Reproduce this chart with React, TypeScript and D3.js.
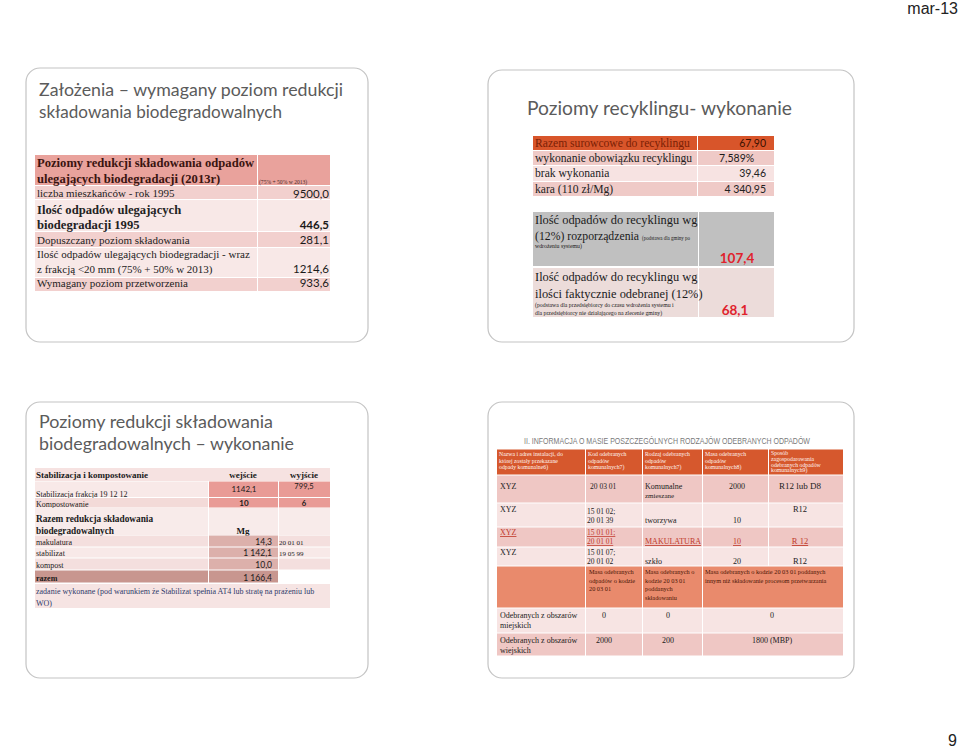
import React from "react";
import * as d3 from "d3";

const W = 960;
const H = 748;

const SERIF = "'Liberation Serif', 'DejaVu Serif', serif";
const SANS = "'Liberation Sans', Arial, sans-serif";
const NUM = "Lato, 'Open Sans', sans-serif";
const TITLE = "Lato, 'Liberation Sans', sans-serif";

// ---------- Page ----------
const pageDate = "mar-13";
const pageNumber = "9";

// ---------- Slide 1 ----------
const s1Title = ["Założenia – wymagany poziom redukcji", "składowania biodegradowalnych"];
const s1Labels = [
  ["Poziomy redukcji składowania odpadów", "ulegających biodegradacji (2013r)"],
  ["liczba mieszkańców - rok 1995"],
  ["Ilość odpadów ulegających", "biodegradacji 1995"],
  ["Dopuszczany poziom składowania"],
  ["Ilość odpadów ulegających biodegradacji - wraz", "z frakcją <20 mm (75% + 50% w 2013)"],
  ["Wymagany poziom przetworzenia"],
];
const s1Values = ["(75% + 50% w 2013)", "9500,0", "446,5", "281,1", "1214,6", "933,6"];
const s1Bold = [true, false, true, false, false, false];

// ---------- Slide 2 ----------
const s2Title = "Poziomy recyklingu- wykonanie";
const s2Labels = ["Razem surowcowe do recyklingu", "wykonanie obowiązku recyklingu", "brak wykonania", "kara (110 zł/Mg)"];
const s2Values = ["67,90", "7,589%", "39,46", "4 340,95"];
const s2bLabels = [
  ["Ilość odpadów do recyklingu wg", "(12%) rozporządzenia"],
  ["Ilość odpadów do recyklingu wg", "ilości faktycznie odebranej (12%)"],
];
const s2bNotes = [
  ["(podstawa dla gminy po", "wdrożeniu systemu)"],
  ["(podstawa dla przedsiębiorcy do czasu wdrożenia systemu i", "dla przedsiębiorcy nie działającego na zlecenie gminy)"],
];
const s2bValues = ["107,4", "68,1"];

// ---------- Slide 3 ----------
const s3Title = ["Poziomy redukcji składowania", "biodegradowalnych – wykonanie"];
const s3Head = ["Stabilizacja i kompostowanie", "wejście", "wyjście"];
const s3InLabels = ["Stabilizacja frakcja 19 12 12", "Kompostowanie"];
const s3InValues = ["1142,1", "10"];
const s3OutValues = ["799,5", "6"];
const s3Total = ["Razem redukcja składowania", "biodegradowalnych"];
const s3Unit = "Mg";
const s3Labels = ["makulatura", "stabilizat", "kompost", "razem"];
const s3Values = ["14,3", "1 142,1", "10,0", "1 166,4"];
const s3Codes = ["20 01 01", "19 05 99", "", ""];
const s3Note = ["zadanie wykonane (pod warunkiem że Stabilizat spełnia AT4 lub stratę na prażeniu lub", "WO)"];

// ---------- Slide 4 ----------
const s4Title = "II. INFORMACJA O MASIE POSZCZEGÓLNYCH RODZAJÓW ODEBRANYCH ODPADÓW";
const s4Header = [
  ["Nazwa i adres instalacji, do", "której zostały przekazane", "odpady komunalne6)"],
  ["Kod odebranych", "odpadów", "komunalnych7)"],
  ["Rodzaj odebranych", "odpadów", "komunalnych7)"],
  ["Masa odebranych", "odpadów", "komunalnych8)"],
  ["Sposób", "zagospodarowania", "odebranych odpadów", "komunalnych9)"],
];
const s4Install = ["XYZ", "XYZ", "XYZ", "XYZ"];
const s4Codes = [["20 03 01"], ["15 01 02;", "20 01 39"], ["15 01 01;", "20 01 01"], ["15 01 07;", "20 01 02"]];
const s4Kinds = [["Komunalne", "zmieszane"], ["tworzywa"], ["MAKULATURA"], ["szkło"]];
const s4Mass = ["2000", "10", "10", "20"];
const s4Method = ["R12 lub D8", "R12", "R 12", "R12"];
const s4Sub = [
  ["Masa odebranych", "odpadów o kodzie", "20 03 01"],
  ["Masa odebranych o", "kodzie 20 03 01", "poddanych", "składowaniu"],
  ["Masa odebranych o kodzie 20 03 01 poddanych", "innym niż składowanie procesom przetwarzania"],
];
const s4Areas = [["Odebranych z obszarów", "miejskich"], ["Odebranych z obszarów", "wiejskich"]];
const s4Totals = [["0", "0", "0"], ["2000", "200", "1800 (MBP)"]];

// ---------- helpers ----------
type TP = {
  x: number; y: number; children?: any; size?: number; family?: string; weight?: number | string;
  fill?: string; anchor?: string; len?: number; deco?: string;
};
function T({ x, y, children, size = 11, family = SERIF, weight = 400, fill = "#1a1a1a", anchor = "start", len, deco }: TP) {
  return (
    <text x={x} y={y} fontSize={size} fontFamily={family} fontWeight={weight} fill={fill}
      textAnchor={anchor as any} textLength={len} lengthAdjust={len ? "spacingAndGlyphs" : undefined}
      textDecoration={deco}>{children}</text>
  );
}
function ML({ x, y, lines, lh, ...rest }: any) {
  return <g>{lines.map((l: string, i: number) => <T key={i} x={x} y={y + i * lh} {...rest}>{l}</T>)}</g>;
}
function Cell({ x0, x1, y0, y1, fill }: any) {
  return <rect x={x0} y={y0} width={x1 - x0} height={y1 - y0} fill={fill} />;
}
function Frame({ x, y, w, h }: any) {
  return <rect x={x} y={y} width={w} height={h} rx={14} ry={14} fill="#fff" stroke="#c4c4c4" strokeWidth={1.2} />;
}

// ---------- slides ----------
function Slide1() {
  const edges = [155, 186, 200, 232, 248, 278, 292];
  const fills = d3.scaleOrdinal<number, string>().domain([0, 1, 2, 3, 4, 5])
    .range(["#e9a29c", "#f2d0ce", "#f8e8e7", "#f2d0ce", "#f8e8e7", "#f2d0ce"]);
  const labelY = [[167, 183], [197], [214, 229], [244], [258, 273], [287]];
  const valueY = [184, 198, 229, 244, 273, 287];
  const xL = 35, xS = 257, xR = 330;
  return (
    <g>
      <Frame x={26} y={68} w={342} h={274} />
      {s1Title.map((t, i) => (
        <T key={i} x={39} y={96 + i * 22} size={18} family={TITLE} fill="#5b5b5b" len={i === 0 ? 304 : 243}>{t}</T>
      ))}
      {s1Labels.map((lines, i) => (
        <g key={i}>
          <Cell x0={xL} x1={xS} y0={edges[i]} y1={edges[i + 1] - 1} fill={fills(i)} />
          <Cell x0={xS + 1} x1={xR} y0={edges[i]} y1={edges[i + 1] - 1} fill={fills(i)} />
          {lines.map((l, j) => (
            <T key={j} x={37} y={labelY[i][j]} size={s1Bold[i] ? 12.6 : 11} weight={s1Bold[i] ? 700 : 400}
              fill={i === 0 ? "#3a1410" : "#222"}>{l}</T>
          ))}
          {i === 0 ? (
            <T x={259} y={valueY[i]} size={5.6} fill="#4a2a28">{s1Values[i]}</T>
          ) : (
            <T x={329} y={valueY[i]} size={11.5} family={NUM} weight={s1Bold[i] ? 700 : 400} anchor="end">{s1Values[i]}</T>
          )}
        </g>
      ))}
    </g>
  );
}

function Slide2() {
  const edges = [136, 151, 166, 182, 197];
  const fills = ["#d8552a", "#efcac7", "#f7e3e2", "#efcac7"];
  const xL = 533, xS = 697, xR = 774;
  const baseY = [147, 162, 177, 193];
  const e2 = [212, 266, 268, 317];
  return (
    <g>
      <Frame x={488} y={70} w={366} h={272} />
      <T x={527} y={115} size={19} family={TITLE} fill="#5b5b5b" len={265}>{s2Title}</T>
      {s2Labels.map((l, i) => (
        <g key={i}>
          <Cell x0={xL} x1={xS} y0={edges[i]} y1={edges[i + 1] - 1} fill={fills[i]} />
          <Cell x0={xS + 1} x1={xR} y0={edges[i]} y1={edges[i + 1] - 1} fill={fills[i]} />
          <T x={535} y={baseY[i]} size={11.6} fill={i === 0 ? "#7a1f05" : "#222"}>{l}</T>
          {i === 1 ? (
            <T x={719} y={baseY[i]} size={10.5} family={NUM}>{s2Values[i]}</T>
          ) : (
            <T x={766} y={baseY[i]} size={10.5} family={NUM} anchor="end" fill={i === 0 ? "#3a1000" : "#222"}>{s2Values[i]}</T>
          )}
        </g>
      ))}
      {s2bLabels.map((lines, i) => {
        const y0 = e2[i * 2], y1 = e2[i * 2 + 1];
        const fill = i === 0 ? "#c0c0c0" : "#ecdcda";
        return (
          <g key={i}>
            <Cell x0={xL} x1={xS + 1} y0={y0} y1={y1} fill={fill} />
            <Cell x0={xS + 2} x1={xR} y0={y0} y1={y1} fill={fill} />
            {i === 0 ? (
              <g>
                <T x={535} y={224} size={12.4}>{lines[0]}</T>
                <T x={535} y={240} size={12.4} len={104}>{lines[1]}</T>
                <T x={642} y={240} size={5.6} len={48}>{s2bNotes[0][0]}</T>
                <T x={535} y={248} size={5.8}>{s2bNotes[0][1]}</T>
                <T x={737} y={263} size={13.5} family={NUM} weight={700} fill="#e0222c" anchor="middle">{s2bValues[0]}</T>
              </g>
            ) : (
              <g>
                <T x={535} y={281} size={12.4}>{lines[0]}</T>
                <T x={535} y={298} size={12.4}>{lines[1]}</T>
                <T x={535} y={306.5} size={5.8}>{s2bNotes[1][0]}</T>
                <T x={535} y={314.5} size={5.8}>{s2bNotes[1][1]}</T>
                <T x={735} y={315} size={13.5} family={NUM} weight={700} fill="#e0222c" anchor="middle">{s2bValues[1]}</T>
              </g>
            )}
          </g>
        );
      })}
    </g>
  );
}

function Slide3() {
  const xs = [35, 208, 278, 330];
  return (
    <g>
      <Frame x={26} y={402} w={342} h={276} />
      {s3Title.map((t, i) => (
        <T key={i} x={39} y={428 + i * 22} size={18} family={TITLE} fill="#5b5b5b" len={i === 0 ? 234 : 255}>{t}</T>
      ))}
      <Cell x0={xs[0]} x1={xs[3]} y0={468} y1={481} fill="#f6e2e1" />
      <T x={36} y={477.5} size={9} weight={700}>{s3Head[0]}</T>
      <T x={243} y={477.5} size={9} weight={700} anchor="middle">{s3Head[1]}</T>
      <T x={304} y={477.5} size={9} weight={700} anchor="middle">{s3Head[2]}</T>
      {s3InLabels.map((l, i) => {
        const y0 = i === 0 ? 481.5 : 498, y1 = i === 0 ? 497 : 507.5;
        return (
          <g key={i}>
            <Cell x0={xs[0]} x1={xs[1]} y0={y0} y1={y1} fill={i === 0 ? "#f8e9e8" : "#f3dad8"} />
            <Cell x0={xs[1] + 1} x1={xs[2]} y0={y0} y1={y1} fill="#e99b96" />
            <Cell x0={xs[2] + 1} x1={xs[3]} y0={y0} y1={y1} fill="#e99b96" />
            <T x={36} y={i === 0 ? 497 : 507} size={8}>{l}</T>
            <T x={244} y={i === 0 ? 492 : 506} size={8} family={NUM} weight={i === 1 ? 700 : 400} anchor="middle">{s3InValues[i]}</T>
            <T x={304} y={i === 0 ? 489 : 506} size={7.6} family={NUM} weight={i === 1 ? 700 : 400} anchor="middle">{s3OutValues[i]}</T>
          </g>
        );
      })}
      <Cell x0={xs[0]} x1={xs[1]} y0={508} y1={535} fill="#f8ebea" />
      <Cell x0={xs[1] + 1} x1={xs[2]} y0={508} y1={535} fill="#f8ebea" />
      <Cell x0={xs[2] + 1} x1={xs[3]} y0={508} y1={535} fill="#f8ebea" />
      <T x={36} y={522} size={9.3} weight={700}>{s3Total[0]}</T>
      <T x={36} y={534} size={9.3} weight={700}>{s3Total[1]}</T>
      <T x={243} y={534} size={9} weight={700} anchor="middle">{s3Unit}</T>
      {s3Labels.map((l, i) => {
        const ys = [535, 547, 558, 570, 583];
        const isTot = i === 3;
        return (
          <g key={i}>
            <Cell x0={xs[0]} x1={xs[1]} y0={ys[i] + 0.5} y1={ys[i + 1] - 0.5} fill={isTot ? "#c8968f" : i % 2 === 0 ? "#f4dfde" : "#f8e9e8"} />
            <Cell x0={xs[1] + 1} x1={xs[2]} y0={ys[i] + 0.5} y1={ys[i + 1] - 0.5} fill={isTot ? "#c8968f" : "#dcb0ab"} />
            {!isTot && <Cell x0={xs[2] + 1} x1={xs[3]} y0={ys[i] + 0.5} y1={ys[i + 1] - 0.5} fill={i % 2 === 0 ? "#f4dfde" : "#f8e9e8"} />}
            <T x={36} y={ys[i + 1] - 2.5} size={8} weight={isTot ? 700 : 400}>{l}</T>
            <T x={272} y={ys[i + 1] - 2.5} size={8.5} family={NUM} anchor="end">{s3Values[i]}</T>
            {s3Codes[i] && <T x={279} y={ys[i + 1] - 2.5} size={7}>{s3Codes[i]}</T>}
          </g>
        );
      })}
      <Cell x0={xs[0]} x1={xs[3]} y0={584} y1={608} fill="#f6e4e3" />
      <ML x={36} y={594} lines={s3Note} lh={11.5} size={8} fill="#2e3a6a" />
    </g>
  );
}

function Slide4() {
  const cx = [497, 585, 642, 702, 768, 843];
  const rowE = [449, 475, 503, 527, 547, 566, 608, 633, 656];
  const rowFill = ["#d6582d", "#efc7c4", "#f7e4e3", "#efc7c4", "#f7e4e3", "#e98a6c", "#f7e4e3", "#efc7c4"];
  const headX = [499, 588, 645, 705, 771];
  const main = [
    { xyz: 489, code: [489, 498], kind: [489, 498], mass: 489, meth: 489 },
    { xyz: 512, code: [514, 523], kind: [523], mass: 523, meth: 512 },
    { xyz: 535, code: [535, 544], kind: [544], mass: 544, meth: 544 },
    { xyz: 555, code: [555, 564], kind: [564], mass: 564, meth: 564 },
  ];
  return (
    <g>
      <Frame x={488} y={402} w={366} h={276} />
      <T x={524} y={444} size={8.6} family={SANS} fill="#7a7a7a" len={286}>{s4Title}</T>
      {d3.range(5).map((r) => (
        <g key={"r" + r}>
          {d3.range(5).map((c) => (
            <Cell key={c} x0={cx[c] + (c ? 1 : 0)} x1={cx[c + 1]} y0={rowE[r] + 0.5} y1={rowE[r + 1] - 0.5} fill={rowFill[r]} />
          ))}
        </g>
      ))}
      {s4Header.map((lines, c) => (
        <ML key={c} x={headX[c]} y={c === 4 ? 455 : 456} lines={lines} lh={c === 4 ? 5.8 : 6.5} size={5.8} fill="#fff4f0" />
      ))}
      {main.map((m, i) => {
        const red = i === 2;
        const fill = red ? "#c0392b" : "#222";
        const deco = red ? "underline" : undefined;
        return (
          <g key={i}>
            <T x={500} y={m.xyz} size={8} fill={fill} deco={deco}>{s4Install[i]}</T>
            {s4Codes[i].map((l, j) => (
              <T key={j} x={i === 0 ? 590 : 587} y={m.code[j]} size={7.5} fill={fill} deco={deco}>{l}</T>
            ))}
            {s4Kinds[i].map((l, j) => (
              <T key={j} x={645} y={m.kind[j]} size={i === 0 && j === 1 ? 7 : 8} fill={fill} deco={deco}>{l}</T>
            ))}
            <T x={737} y={m.mass} size={8} anchor="middle" fill={fill} deco={deco}>{s4Mass[i]}</T>
            <T x={800} y={m.meth} size={i === 0 ? 9 : 8.5} anchor="middle" fill={fill} deco={deco}>{s4Method[i]}</T>
          </g>
        );
      })}
      {[[0, 1], [1, 2], [2, 3], [3, 5]].map(([a, b], k) => (
        <Cell key={"s" + k} x0={cx[a] + (a ? 1 : 0)} x1={cx[b]} y0={rowE[5] + 0.5} y1={rowE[6] - 0.5} fill={rowFill[5]} />
      ))}
      {s4Sub.map((lines, k) => (
        <ML key={k} x={[589, 645, 705][k]} y={574} lines={lines} lh={8.5} size={6.3} fill="#4a1505" />
      ))}
      {s4Areas.map((lines, r) => (
        <g key={"a" + r}>
          {[[0, 1], [1, 2], [2, 3], [3, 5]].map(([a, b], k) => (
            <Cell key={k} x0={cx[a] + (a ? 1 : 0)} x1={cx[b]} y0={rowE[6 + r] + 0.5} y1={rowE[7 + r] - 0.5} fill={rowFill[6 + r]} />
          ))}
          <ML x={500} y={rowE[6 + r] + 10} lines={lines} lh={10} size={8} />
          {s4Totals[r].map((v, k) => (
            <T key={k} x={[604, 668, 772][k]} y={rowE[6 + r] + 10} size={8} anchor="middle">{v}</T>
          ))}
        </g>
      ))}
    </g>
  );
}

export default function App() {
  return (
    <svg width={W} height={H} viewBox={`0 0 ${W} ${H}`}
      style={{ position: "absolute", left: 0, top: 0, background: "#fff", display: "block" }}>
      <rect x={0} y={0} width={W} height={H} fill="#fff" />
      <T x={958} y={14} size={16} family={SANS} fill="#222" anchor="end">{pageDate}</T>
      <T x={957} y={746} size={16} family={SANS} fill="#222" anchor="end">{pageNumber}</T>
      <Slide1 />
      <Slide2 />
      <Slide3 />
      <Slide4 />
    </svg>
  );
}
